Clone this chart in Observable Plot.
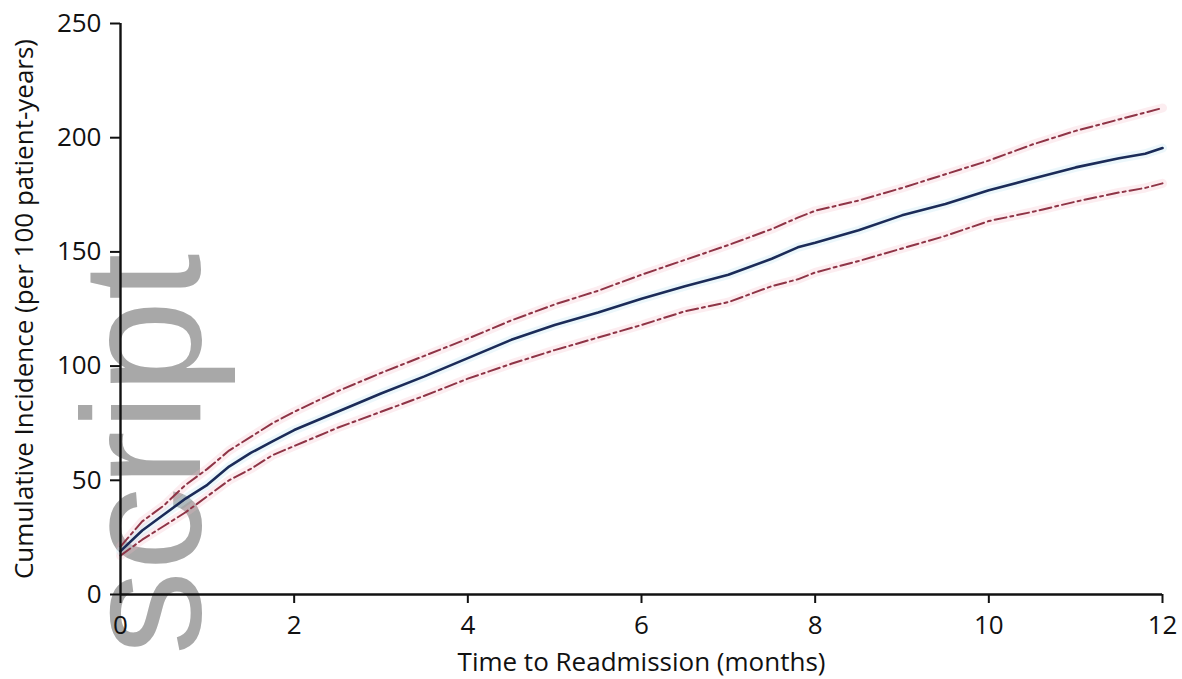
<!DOCTYPE html>
<html>
<head>
<meta charset="utf-8">
<script src="https://cdn.jsdelivr.net/npm/d3@7"></script>
<script src="https://cdn.jsdelivr.net/npm/@observablehq/plot@0.6"></script>
<style>
  html, body { margin: 0; padding: 0; background: #fff; }
  #chart { position: relative; width: 1182px; height: 679px; overflow: hidden; }
</style>
</head>
<body>
<div id="chart"></div>
<script>
// ---- data ----
const months   = [0, 0.25, 0.5, 0.75, 1, 1.25, 1.5, 1.75, 2, 2.5, 3, 3.5, 4, 4.5, 5, 5.5, 6, 6.5, 7, 7.5, 7.8, 8, 8.5, 9, 9.5, 10, 10.5, 11, 11.5, 11.8, 12];
const incidence = [19, 28, 35, 42, 48, 56, 62, 67, 72, 80, 88, 95.5, 103.5, 111.5, 118, 123.5, 129.5, 135, 140, 147, 152, 154, 159.5, 166, 171, 177, 182, 187, 191, 193, 195.5];
const upperCI   = [21, 32, 39, 48, 55, 63, 69, 75, 80, 89, 97, 104.5, 112, 120, 127, 133, 140, 146.5, 153, 160, 165, 168, 172.5, 178, 184, 190, 197, 203, 208, 211, 213];
const lowerCI   = [17, 24, 30, 36, 43, 50, 55, 61, 65, 73, 80, 87, 94.5, 101, 107, 112.5, 118, 124, 128, 135, 138, 141, 146, 151.5, 157, 163.5, 167.5, 172, 176, 178, 180];
const xTicks = [0, 2, 4, 6, 8, 10, 12];
const yTicks = [0, 50, 100, 150, 200, 250];
const xTitle = "Time to Readmission (months)";
const yTitle = "Cumulative Incidence (per 100 patient-years)";
const watermark = "script";

const rows = months.map((m, i) => ({month: m, mid: incidence[i], hi: upperCI[i], lo: lowerCI[i]}));

const font = "'Open Sans', 'Noto Sans', sans-serif";

const chart = Plot.plot({
  width: 1182,
  height: 679,
  marginLeft: 120,
  marginRight: 20,
  marginTop: 23,
  marginBottom: 85,
  x: {domain: [0, 12]},
  y: {domain: [0, 250]},
  style: {fontFamily: font, fontSize: "26px", color: "#111", background: "transparent"},
  marks: [
    // soft halos (scan blur)
    Plot.line(rows, {x: "month", y: "hi", stroke: "#f2b8c4", strokeWidth: 9, strokeOpacity: 0.25}),
    Plot.line(rows, {x: "month", y: "lo", stroke: "#f2b8c4", strokeWidth: 9, strokeOpacity: 0.25}),
    Plot.line(rows, {x: "month", y: "mid", stroke: "#bfe6f2", strokeWidth: 9, strokeOpacity: 0.3}),
    // confidence limits
    Plot.line(rows, {x: "month", y: "hi", stroke: "#8e3446", strokeWidth: 2, strokeDasharray: "12,4,3,4"}),
    Plot.line(rows, {x: "month", y: "lo", stroke: "#8e3446", strokeWidth: 2, strokeDasharray: "12,4,3,4"}),
    // estimate
    Plot.line(rows, {x: "month", y: "mid", stroke: "#1b2b58", strokeWidth: 2.6}),
    // axes
    Plot.axisY({ticks: yTicks, tickSize: 10, tickPadding: 9, tickFormat: d => d, label: null, fontSize: 26, strokeWidth: 2, stroke: "#111"}),
    Plot.axisX({ticks: xTicks, tickSize: 9, tickPadding: 12, tickFormat: d => d, label: null, fontSize: 26, strokeWidth: 2, stroke: "#111"}),
    Plot.ruleX([0], {stroke: "#111", strokeWidth: 2.4}),
    Plot.ruleY([0], {stroke: "#111", strokeWidth: 2.4}),
    // axis titles
    Plot.text([xTitle], {frameAnchor: "bottom", dy: 68, lineAnchor: "middle", fontSize: 26, fill: "#111"}),
    Plot.text([yTitle], {frameAnchor: "left", dx: -96, rotate: -90, textAnchor: "middle", lineAnchor: "middle", fontSize: 26, fill: "#111"})
  ]
});

// watermark behind everything
const ns = "http://www.w3.org/2000/svg";
const wm = document.createElementNS(ns, "text");
wm.setAttribute("transform", "translate(200,655) rotate(-90)");
wm.setAttribute("font-family", "'Liberation Sans', Arial, sans-serif");
wm.setAttribute("font-size", "168");
wm.setAttribute("fill", "#a8a8a8");
wm.setAttribute("text-anchor", "start");
wm.textContent = watermark;
chart.insertBefore(wm, chart.firstChild.nextSibling);

document.getElementById("chart").appendChild(chart);
</script>
</body>
</html>
